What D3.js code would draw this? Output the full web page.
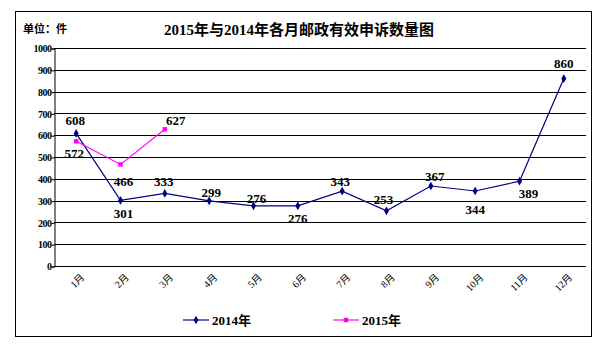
<!DOCTYPE html>
<html><head><meta charset="utf-8">
<script src="https://cdn.jsdelivr.net/npm/d3@7"></script>
<style>body{margin:0;background:#fff}svg{display:block}</style>
</head><body>
<script>
const months = ["1月","2月","3月","4月","5月","6月","7月","8月","9月","10月","11月","12月"];
const values2014 = [608,301,333,299,276,276,343,253,367,344,389,860];
const values2015 = [572,466,627];
const yTicks = [0,100,200,300,400,500,600,700,800,900,1000];
const seriesNames = ["2014年","2015年"];

// label offsets (style): [dx, dy] relative to point
const off2014 = [[-1,-13],[3,13],[-1,-12],[2,-8],[3,-7],[0,13],[-2,-10],[-3,-11],[4,-9],[0,18],[9,12],[0,-15]];
const off2015 = [[-2,12],[3,17],[11,-9]];

const W=607,H=349;
const svg=d3.select("body").append("svg").attr("width",W).attr("height",H);
const serif='"Liberation Serif","Noto Sans CJK SC",serif';

svg.append("rect").attr("x",15.5).attr("y",11.5).attr("width",576).attr("height",325)
  .attr("fill","#fff").attr("stroke","#000").attr("stroke-width",1);

const x=d3.scalePoint().domain(months).range([54,586]).padding(0.5);
const y=d3.scaleLinear().domain([0,1000]).range([266,48]);

// gridlines
svg.append("g").selectAll("line").data(yTicks).join("line")
  .attr("x1",54).attr("x2",586).attr("y1",d=>Math.round(y(d))+0.5).attr("y2",d=>Math.round(y(d))+0.5)
  .attr("stroke","#000").attr("stroke-width",1);

// y axis
const ya=svg.append("g").attr("transform","translate(54.5,0.5)")
  .call(d3.axisLeft(y).tickValues(yTicks).tickSize(3).tickPadding(0).tickFormat(d3.format("d")));
ya.select(".domain").attr("stroke","#000");
ya.selectAll("text").attr("font-family",serif).attr("font-weight","bold").attr("font-size",10).attr("fill","#000").attr("letter-spacing","-0.5px");

// x labels
svg.append("g").selectAll("text").data(months).join("text")
  .attr("transform",d=>`translate(${x(d)+4},273) rotate(-45)`)
  .attr("text-anchor","end").attr("dy","0.7em")
  .attr("font-family",serif).attr("font-size",10).text(d=>d);

// title
svg.append("text").attr("x",299).attr("y",35).attr("text-anchor","middle")
  .attr("font-family",serif).attr("font-weight","bold").attr("font-size",15).text("2015年与2014年各月邮政有效申诉数量图");
svg.append("text").attr("x",23).attr("y",33)
  .attr("font-family",serif).attr("font-weight","bold").attr("font-size",11).text("单位：件");

const line=d3.line().x((d,i)=>x(months[i])).y(d=>y(d));

function drawSeries(vals,color,shape,offs){
  svg.append("path").datum(vals).attr("d",line).attr("fill","none").attr("stroke",color).attr("stroke-width",1.2);
  const sym=d3.symbol().type(shape).size(shape===d3.symbolSquare?20:22);
  svg.append("g").selectAll("path").data(vals).join("path")
    .attr("transform",(d,i)=>`translate(${x(months[i])},${y(d)})`).attr("d",sym).attr("fill",color);
  svg.append("g").selectAll("text").data(vals).join("text")
    .attr("x",(d,i)=>x(months[i])+offs[i][0]).attr("y",(d,i)=>y(d)+offs[i][1]+4.5)
    .attr("text-anchor","middle").attr("font-family",serif).attr("font-weight","bold").attr("font-size",13)
    .text(d=>d);
}
drawSeries(values2014,"#000080",d3.symbolDiamond,off2014);
drawSeries(values2015,"#FF00FF",d3.symbolSquare,off2015);

// legend
const leg=[{n:seriesNames[0],c:"#000080",s:d3.symbolDiamond,x:183},{n:seriesNames[1],c:"#FF00FF",s:d3.symbolSquare,x:333}];
leg.forEach(l=>{
  svg.append("line").attr("x1",l.x).attr("x2",l.x+26).attr("y1",320).attr("y2",320).attr("stroke",l.c).attr("stroke-width",1.2);
  svg.append("path").attr("transform",`translate(${l.x+13},320)`).attr("d",d3.symbol().type(l.s).size(20)).attr("fill",l.c);
  svg.append("text").attr("x",l.x+29).attr("y",324.5).attr("font-family",serif).attr("font-weight","bold").attr("font-size",13).text(l.n);
});
</script>
</body></html>
